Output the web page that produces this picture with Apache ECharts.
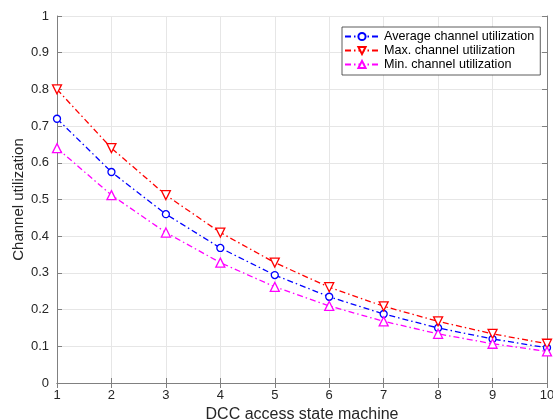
<!DOCTYPE html>
<html><head><meta charset="utf-8">
<script src="https://cdn.jsdelivr.net/npm/echarts@6/dist/echarts.min.js"></script>
<style>html,body{margin:0;padding:0;background:#fff}#c{width:553px;height:419px}</style>
</head><body><div id="c"></div>
<script>
const states = [1,2,3,4,5,6,7,8,9,10];
const avgUtil = [0.72,0.575,0.46,0.368,0.294,0.235,0.188,0.150,0.120,0.096];
const maxUtil = [0.80,0.64,0.512,0.41,0.328,0.261,0.209,0.168,0.134,0.107];
const minUtil = [0.64,0.512,0.41,0.328,0.262,0.210,0.168,0.134,0.107,0.086];
const seriesNames = ['Average channel utilization','Max. channel utilization','Min. channel utilization'];
const xTitle = 'DCC access state machine';
const yTitle = 'Channel utilization';

const font = 'Liberation Sans, Helvetica, Arial, sans-serif';
const axisCol = '#808080';
const txtCol = '#262626';
const dashDot = [6,3,1.5,3];
function pairs(v){ return states.map((x,i)=>[x,v[i]]); }
function mk(name, data, color, symbol, rot){
  return {name, type:'line', data:pairs(data), symbol, symbolSize: symbol==='circle'?7:9, symbolRotate:rot,
    itemStyle:{color:'#fff', borderColor:color, borderWidth:1.3},
    lineStyle:{color, width:1.3, type:dashDot}, animation:false, z:3};
}
const chart = echarts.init(document.getElementById('c'));
const axBase = {
  axisLine:{show:true,lineStyle:{color:axisCol,width:1}},
  axisTick:{show:true,inside:true,length:5,lineStyle:{color:axisCol}},
  axisLabel:{color:txtCol,fontSize:13,fontFamily:font},
};
chart.setOption({
  animation:false,
  grid:{left:57,right:6,top:16,bottom:36,containLabel:false,outerBoundsMode:'none'},
  legend:{
    data:seriesNames,
    left:342, top:27, orient:'vertical', itemWidth:34, itemHeight:9, itemGap:1,
    padding:[3,6,4,2], borderColor:'#333', borderWidth:0.8, backgroundColor:'#fff',
    textStyle:{fontSize:12.6,fontFamily:font,color:'#000'}
  },
  xAxis:[
    Object.assign({type:'value',min:1,max:10,interval:1,position:'bottom',
      name:xTitle,nameLocation:'middle',nameGap:20,nameTextStyle:{fontSize:16,fontFamily:font,color:txtCol},
      splitLine:{show:true,lineStyle:{color:'#e6e6e6'}}},axBase,{axisLabel:{color:txtCol,fontSize:13,fontFamily:font,margin:6}}),
    Object.assign({type:'value',min:1,max:10,interval:1,position:'top',splitLine:{show:false}},axBase,{axisLabel:{show:false}})
  ],
  yAxis:[
    Object.assign({type:'value',min:0,max:1,interval:0.1,position:'left',
      name:yTitle,nameLocation:'middle',nameGap:31,nameMoveOverlap:false,nameTextStyle:{fontSize:15,fontFamily:font,color:txtCol},
      splitLine:{show:true,lineStyle:{color:'#e6e6e6'}}},axBase,{axisLabel:{color:txtCol,fontSize:13,fontFamily:font,margin:8,formatter:v=>String(+v.toFixed(1))}}),
    Object.assign({type:'value',min:0,max:1,interval:0.1,position:'right',splitLine:{show:false}},axBase,{axisLabel:{show:false}})
  ],
  series:[
    mk(seriesNames[0], avgUtil, '#0000ff', 'circle', 0),
    mk(seriesNames[1], maxUtil, '#ff0000', 'triangle', 180),
    mk(seriesNames[2], minUtil, '#ff00ff', 'triangle', 0)
  ]
});
</script></body></html>
